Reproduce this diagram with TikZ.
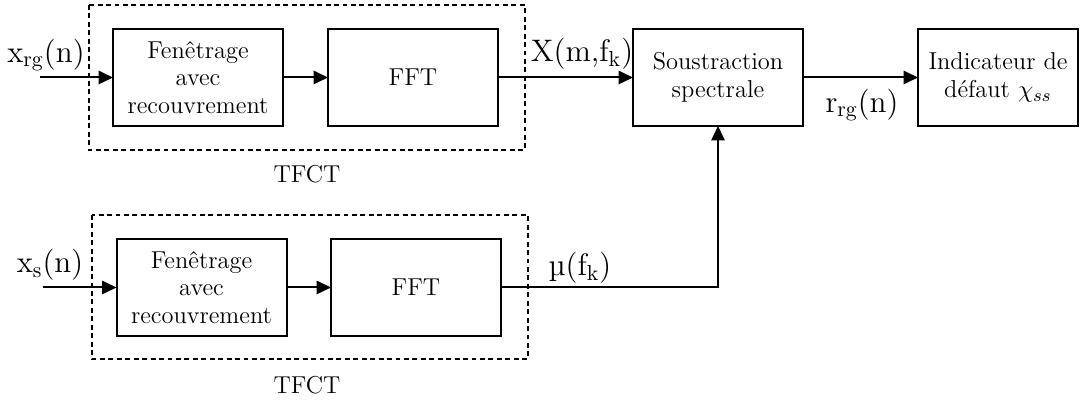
\documentclass[tikz,border=0pt]{standalone}
\usetikzlibrary{arrows.meta}

\begin{document}
\begin{tikzpicture}[
    x=0.45pt, y=-0.45pt,
    block/.style={draw, line width=0.9pt, inner sep=1pt, outer sep=0pt,
                  minimum height=43.65pt, minimum width=76.5pt, align=center,
                  font=\fontsize{11}{12.5}\selectfont},
    frame/.style={draw, dash pattern=on 2.2pt off 1.6pt, line width=0.5pt},
    flow/.style={-{Triangle[length=6.5pt, width=6pt]}, line width=0.9pt},
    sig/.style={font=\fontsize{14}{16}\selectfont},
    note/.style={font=\fontsize{11}{12.5}\selectfont},
]
    \useasboundingbox (0,0) rectangle (1080,401);

    % short-time Fourier transform frames
    \draw[frame] (89,5) rectangle (525,150);
    \draw[frame] (92,215) rectangle (528,359);
    \node[note] (tfcta) at (307,174) {TFCT};
    \node[note] (tfctb) at (307,385) {TFCT};

    % upper branch
    \coordinate (ina) at (40,77.5);
    \node[block] (fena) at (198,77.5) {Fenêtrage\\avec\\recouvrement};
    \node[block] (ffta) at (413,77.5) {FFT};
    \node[block] (sous) at (718,77.5) {Soustraction\\spectrale};
    \node[block, minimum width=72pt] (indic) at (998,77.5) {Indicateur de\\défaut $\chi_{ss}$};
    \draw[flow] (ina) -- (fena);
    \draw[flow] (fena) -- (ffta);
    \draw[flow] (ffta) -- (sous);
    \draw[flow] (sous) -- (indic);

    % lower branch
    \coordinate (inb) at (43,287.5);
    \node[block] (fenb) at (201.5,287.5) {Fenêtrage\\avec\\recouvrement};
    \node[block] (fftb) at (416,287.5) {FFT};
    \draw[flow] (inb) -- (fenb);
    \draw[flow] (fenb) -- (fftb);
    \draw[flow] (fftb.east) -| (sous.south);

    % signal labels
    \node[sig] (xrg) at (46,55) {x\textsubscript{rg}(n)};
    \node[sig] (xs) at (50,265) {x\textsubscript{s}(n)};
    \node[sig] (xmf) at (582,54) {X(m,f\textsubscript{k})};
    \node[sig] (mu) at (580,268) {µ(f\textsubscript{k})};
    \node[sig] (rrg) at (862,105) {r\textsubscript{rg}(n)};
\end{tikzpicture}
\end{document}
